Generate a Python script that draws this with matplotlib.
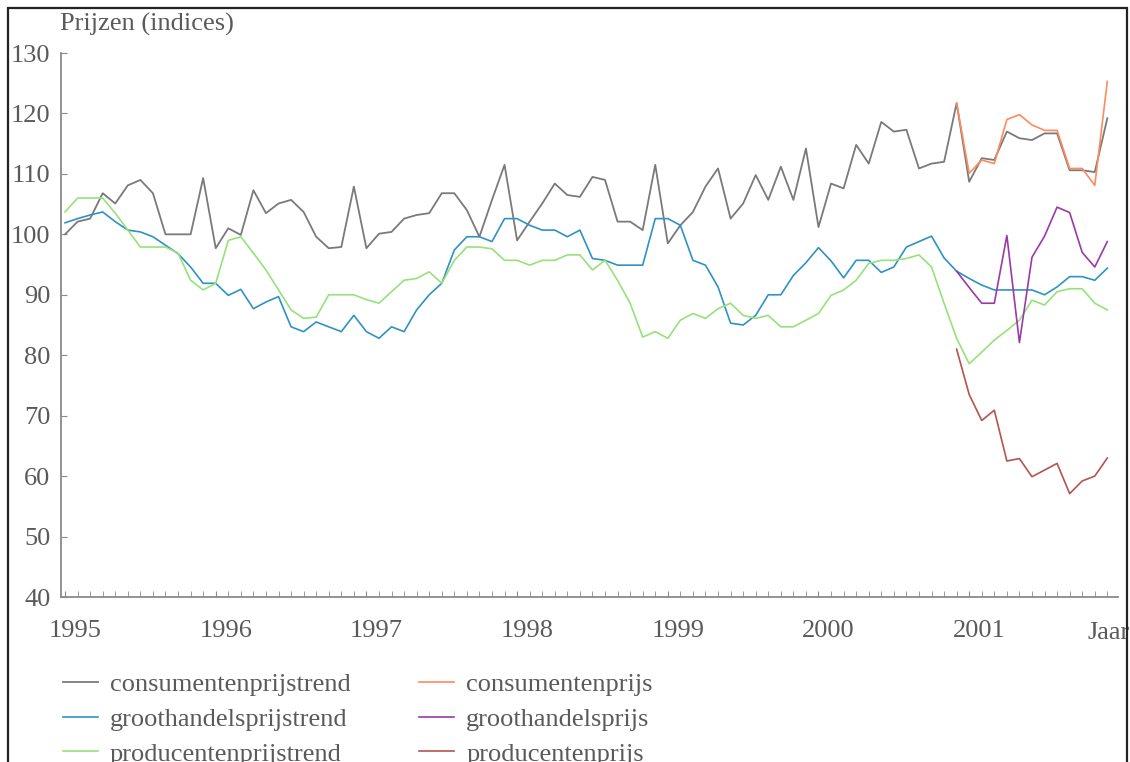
import matplotlib
matplotlib.use("Agg")
import matplotlib.pyplot as plt
import matplotlib.transforms as mtransforms
from matplotlib.patches import Rectangle
import numpy as np

# monthly index values, Jan 1995 .. Dec 2001
consument_trend = [100, 102.1, 102.6, 106.8, 105.1, 108.1, 109, 106.8, 100, 100, 100, 109.3,
                   97.7, 101, 99.9, 107.3, 103.5, 105.1, 105.7, 103.7, 99.6, 97.7, 97.9, 107.9,
                   97.7, 100.1, 100.4, 102.6, 103.2, 103.5, 106.8, 106.8, 104, 99.6, 105.7, 111.5,
                   99, 102.1, 105.1, 108.4, 106.5, 106.2, 109.5, 109, 102.1, 102.1, 100.7, 111.5,
                   98.5, 101.5, 103.7, 107.9, 110.9, 102.6, 105.1, 109.8, 105.7, 111.2, 105.7, 114.2,
                   101.2, 108.4, 107.6, 114.8, 111.7, 118.6, 117, 117.3, 110.9, 111.7, 112, 121.7,
                   108.7, 112.6, 112.3, 117, 115.9, 115.6, 116.7, 116.7, 110.6, 110.6, 110.3, 119.2]
groothandel_trend = [101.9, 102.6, 103.2, 103.7, 102.1, 100.7, 100.4, 99.6, 98.2, 96.8, 94.6, 91.9,
                     91.9, 89.9, 90.9, 87.7, 88.8, 89.7, 84.7, 83.9, 85.5, 84.7, 83.9, 86.6,
                     83.9, 82.8, 84.7, 83.9, 87.5, 90, 91.9, 97.4, 99.6, 99.6, 98.8, 102.6,
                     102.6, 101.5, 100.7, 100.7, 99.6, 100.7, 96, 95.7, 94.9, 94.9, 94.9, 102.6,
                     102.6, 101.5, 95.7, 94.9, 91.3, 85.3, 85, 86.6, 90, 90, 93.2, 95.3,
                     97.8, 95.6, 92.8, 95.7, 95.7, 93.7, 94.6, 97.9, 98.8, 99.7, 96.1, 93.9,
                     92.7, 91.6, 90.8, 90.8, 90.8, 90.8, 90, 91.3, 93, 93, 92.4, 94.4]
producent_trend = [103.7, 106, 106, 106, 103.5, 100.7, 97.9, 97.9, 97.9, 96.9, 92.4, 90.8,
                   91.9, 99, 99.6, 96.9, 94.1, 90.8, 87.5, 86.1, 86.3, 90, 90, 90,
                   89.2, 88.6, 90.5, 92.4, 92.7, 93.8, 91.9, 95.7, 97.9, 97.9, 97.6, 95.7,
                   95.7, 94.9, 95.7, 95.7, 96.6, 96.6, 94.1, 95.7, 92.4, 88.6, 83, 83.9,
                   82.8, 85.8, 86.9, 86.1, 87.7, 88.6, 86.6, 86.1, 86.6, 84.7, 84.7, 85.8,
                   86.9, 89.9, 90.8, 92.4, 95.2, 95.7, 95.7, 96, 96.6, 94.6, 88.6, 82.8,
                   78.6, 80.5, 82.5, 84.1, 85.8, 89.1, 88.3, 90.5, 91, 91, 88.6, 87.5]

# actual prices, Dec 2000 .. Dec 2001
consument_prijs = [121.7, 110.1, 112.3, 111.7, 119, 119.8, 118.1, 117.2, 117.2, 110.9, 110.9, 108.1, 125.3]
groothandel_prijs = [93.9, 91.2, 88.6, 88.6, 99.8, 82.1, 96.2, 99.7, 104.5, 103.6, 97, 94.6, 98.8]
producent_prijs = [81, 73.5, 69.2, 70.9, 62.5, 62.9, 59.9, 61, 62.1, 57.1, 59.2, 60, 63]

years = ["1995", "1996", "1997", "1998", "1999", "2000", "2001"]

plt.rcParams['font.family'] = ['Liberation Serif', 'DejaVu Serif']
txt = '#5a5a5a'
axc = '#8a8a8a'
fs = 19

fig = plt.figure(figsize=(11.3, 7.62), dpi=100)
ax = fig.add_axes([61 / 1130, 165 / 762, (1118 - 61) / 1130, (709 - 165) / 762])

months = np.arange(len(consument_trend))
pm = np.arange(len(consument_trend) - len(consument_prijs), len(consument_trend))

ax.plot(months, consument_trend, color='#7a7a7a', lw=1.3, label='consumentenprijstrend')
ax.plot(months, groothandel_trend, color='#2f92c4', lw=1.2, label='groothandelsprijstrend')
ax.plot(months, producent_trend, color='#96e27a', lw=1.2, label='producentenprijstrend')
ax.plot(pm, consument_prijs, color='#ff8a5c', lw=1.2, label='consumentenprijs')
ax.plot(pm, groothandel_prijs, color='#9a3aa6', lw=1.2, label='groothandelsprijs')
ax.plot(pm, producent_prijs, color='#b5544e', lw=1.2, label='producentenprijs')

ax.set_xlim(-0.32, 83.85)
ax.set_ylim(40, 130)

for s in ['top', 'right']:
    ax.spines[s].set_visible(False)
for s in ['left', 'bottom']:
    ax.spines[s].set_color(axc)
    ax.spines[s].set_linewidth(1.3)

ax.set_yticks(range(40, 131, 10))
ax.tick_params(axis='y', direction='in', length=4, color=axc, labelsize=fs,
               labelcolor=txt, pad=7.5)
ax.set_xticks(np.arange(0, 84, 12))
ax.set_xticklabels(years)
ax.set_xticks(np.arange(0, 84, 1), minor=True)
ax.tick_params(axis='x', which='both', direction='in', length=4, color=axc,
               labelsize=fs, labelcolor=txt, pad=16.5)
offset = mtransforms.ScaledTranslation(10 / 100, 0, fig.dpi_scale_trans)
for lab in ax.get_xticklabels():
    lab.set_transform(lab.get_transform() + offset)

ax.set_xlabel('Jaar', fontsize=fs, color=txt, ha='left', va='center')
ax.xaxis.set_label_coords((1088 - 61) / (1118 - 61), -36 / 544)

fig.text(60 / 1130, 1 - 24 / 762, 'Prijzen (indices)', fontsize=fs, color=txt,
         ha='left', va='center')

fig.legend(loc='upper left', bbox_to_anchor=(63 / 1130, (762 - 673) / 762), ncol=2,
           frameon=False, fontsize=fs, handlelength=1.33, handletextpad=0.45,
           columnspacing=2.6, labelspacing=0.42, borderpad=0, borderaxespad=0,
           labelcolor=txt)

fig.patches.append(Rectangle((8 / 1130, -0.05), (1127 - 8) / 1130, 1.05 - 8 / 762,
                             transform=fig.transFigure, fill=False, lw=1.6,
                             edgecolor='#222222', zorder=10))

fig.savefig('out.png', dpi=100)
